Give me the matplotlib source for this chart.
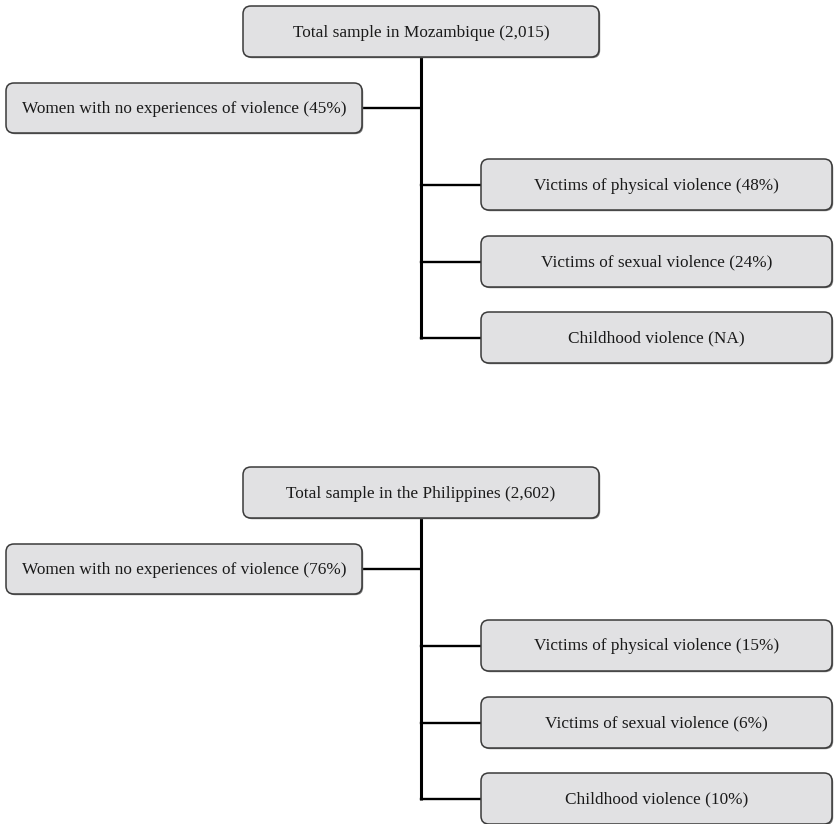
import matplotlib
matplotlib.use("Agg")
from matplotlib import pyplot as plt
from matplotlib.patches import FancyBboxPatch

# Texts for the two flow diagrams.
countries = ["Mozambique", "the Philippines"]
totals = ["2,015", "2,602"]
no_violence = ["45%", "76%"]
physical = ["48%", "15%"]
sexual = ["24%", "6%"]
childhood = ["NA", "10%"]

# Layout in pixels (figure is 834 x 824).
W, H = 834, 824
panel_offset = [0, 461]
top_box = (243, 6, 356, 51)
left_box = (6, 83, 356, 50)
right_x, right_w, right_h = 481, 351, 51
right_tops = [159, 236, 312]
trunk_x = 421.5

fig = plt.figure(figsize=(W / 100, H / 100), dpi=100)
ax = fig.add_axes([0, 0, 1, 1])
ax.set_xlim(0, W)
ax.set_ylim(H, 0)
ax.axis("off")

font = {"family": ["Liberation Serif", "DejaVu Serif"], "size": 12.4, "color": "#1a1a1a"}


def draw_box(x, y, w, h, label):
    # soft shadow then the box itself
    shadow = FancyBboxPatch((x + 1.2, y + 1.2), w, h, boxstyle="round,pad=0,rounding_size=8",
                            facecolor="#7a7a7a", edgecolor="none", zorder=2)
    ax.add_patch(shadow)
    box = FancyBboxPatch((x, y), w, h, boxstyle="round,pad=0,rounding_size=8",
                         facecolor="#e1e1e3", edgecolor="#3a3a3a", linewidth=1.1, zorder=3)
    ax.add_patch(box)
    ax.text(x + w / 2, y + h / 2 + 1, label, ha="center", va="center", zorder=4, **font)


for i in range(len(countries)):
    dy = panel_offset[i]
    tx, ty, tw, th = top_box
    lx, ly, lw, lh = left_box
    branch_ys = [t + dy + right_h / 2 for t in right_tops]

    # connector lines
    ax.plot([trunk_x, trunk_x], [ty + th + dy, branch_ys[-1] + 1], color="black", lw=2.2,
            solid_capstyle="butt", zorder=1)
    ax.plot([lx + lw, trunk_x], [ly + lh / 2 + dy] * 2, color="black", lw=1.7, zorder=1)
    for by in branch_ys:
        ax.plot([trunk_x, right_x], [by, by], color="black", lw=1.7, zorder=1)

    draw_box(tx, ty + dy, tw, th, "Total sample in " + countries[i] + " (" + totals[i] + ")")
    draw_box(lx, ly + dy, lw, lh, "Women with no experiences of violence (" + no_violence[i] + ")")
    right_labels = ["Victims of physical violence (" + physical[i] + ")",
                    "Victims of sexual violence (" + sexual[i] + ")",
                    "Childhood violence (" + childhood[i] + ")"]
    for top, label in zip(right_tops, right_labels):
        draw_box(right_x, top + dy, right_w, right_h, label)

fig.savefig("out.png", dpi=100, facecolor="white")
